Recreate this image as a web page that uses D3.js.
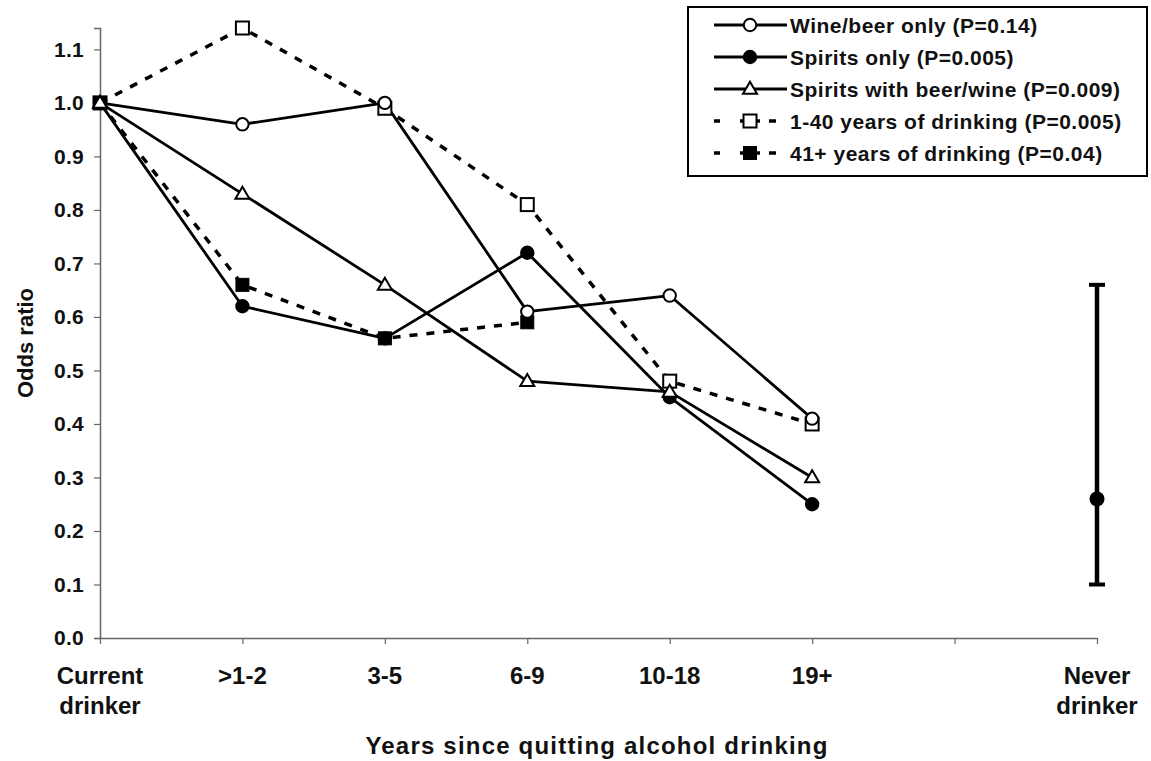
<!DOCTYPE html>
<html>
<head>
<meta charset="utf-8">
<script src="https://cdn.jsdelivr.net/npm/d3@7"></script>
<style>
  html, body { margin: 0; padding: 0; background: #fff; }
  svg { display: block; font-family: "Liberation Sans", Arial, sans-serif; font-weight: bold; }
</style>
</head>
<body>
<svg id="chart" width="1151" height="761"></svg>
<script>
// ---- data ----
const categories = ["Current\ndrinker", ">1-2", "3-5", "6-9", "10-18", "19+", "", "Never\ndrinker"];
const yTicks = [0, 0.1, 0.2, 0.3, 0.4, 0.5, 0.6, 0.7, 0.8, 0.9, 1.0, 1.1];

const wineBeer      = [1.00, 0.96, 1.00, 0.61, 0.64, 0.41];
const spiritsOnly   = [1.00, 0.62, 0.56, 0.72, 0.45, 0.25];
const spiritsWith   = [1.00, 0.83, 0.66, 0.48, 0.46, 0.30];
const years1to40    = [1.00, 1.14, 0.99, 0.81, 0.48, 0.40];
const years41plus   = [1.00, 0.66, 0.56, 0.59, null, null];

const neverDrinker = { category: "Never\ndrinker", or: 0.26, lo: 0.10, hi: 0.66 };

const seriesNames = [
  "Wine/beer only (P=0.14)",
  "Spirits only (P=0.005)",
  "Spirits with beer/wine (P=0.009)",
  "1-40 years of drinking (P=0.005)",
  "41+ years of drinking (P=0.04)"
];

const series = [
  { name: seriesNames[0], values: wineBeer,    marker: "circle",   fill: "#fff", dashed: false },
  { name: seriesNames[1], values: spiritsOnly, marker: "circle",   fill: "#000", dashed: false },
  { name: seriesNames[2], values: spiritsWith, marker: "triangle", fill: "#fff", dashed: false },
  { name: seriesNames[3], values: years1to40,  marker: "square",   fill: "#fff", dashed: true },
  { name: seriesNames[4], values: years41plus, marker: "square",   fill: "#000", dashed: true }
];

// ---- layout ----
const svg = d3.select("#chart");
const x = d3.scalePoint().domain(categories).range([100, 1097]);
const y = d3.scaleLinear().domain([0, 1.14]).range([638, 28]);

// axes
const yAxis = d3.axisLeft(y).tickValues(yTicks).tickFormat(d3.format(".1f")).tickSize(6).tickPadding(10);
const gy = svg.append("g").attr("transform", `translate(${x(categories[0])},0)`).call(yAxis);
gy.select(".domain").attr("stroke", "#666").attr("stroke-width", 1.5);
gy.selectAll(".tick line").attr("stroke", "#666").attr("stroke-width", 1.2);
gy.selectAll(".tick text").attr("font-size", 21).attr("font-weight", "bold").attr("fill", "#111")
  .attr("font-family", "Liberation Sans, Arial, sans-serif").attr("letter-spacing", 0.3);

const xAxis = d3.axisBottom(x).tickSize(6).tickSizeOuter(0).tickFormat("");
const gx = svg.append("g").attr("transform", `translate(0,${y(0)})`).call(xAxis);
gx.select(".domain").attr("stroke", "#666").attr("stroke-width", 1.5);
gx.selectAll(".tick line").attr("stroke", "#666").attr("stroke-width", 1.2);

// x tick labels (two lines)
const xl = svg.append("g").attr("font-size", 24).attr("fill", "#111").attr("text-anchor", "middle");
categories.forEach(c => {
  if (!c) return;
  const t = xl.append("text").attr("x", x(c)).attr("y", 684);
  c.split("\n").forEach((line, i) => {
    t.append("tspan").attr("x", x(c)).attr("dy", i === 0 ? 0 : 30).text(line);
  });
});

// axis titles
svg.append("text").attr("x", 597).attr("y", 754).attr("text-anchor", "middle")
  .attr("font-size", 24).attr("letter-spacing", 1.2).attr("fill", "#111")
  .text("Years since quitting alcohol drinking");
svg.append("text").attr("transform", "translate(33,343) rotate(-90)").attr("text-anchor", "middle")
  .attr("font-size", 22).attr("fill", "#111").text("Odds ratio");

// markers
function drawMarker(g, type, fill, cx, cy) {
  if (type === "circle") {
    g.append("circle").attr("cx", cx).attr("cy", cy).attr("r", 6.2)
      .attr("fill", fill).attr("stroke", "#000").attr("stroke-width", 2);
  } else if (type === "square") {
    const s = 13;
    g.append("rect").attr("x", cx - s / 2).attr("y", cy - s / 2).attr("width", s).attr("height", s)
      .attr("fill", fill).attr("stroke", "#000").attr("stroke-width", fill === "#000" ? 1 : 2);
  } else if (type === "triangle") {
    const h = 12, w = 14;
    g.append("path").attr("d", `M${cx},${cy - h * 0.6} L${cx + w / 2},${cy + h * 0.4} L${cx - w / 2},${cy + h * 0.4} Z`)
      .attr("fill", fill).attr("stroke", "#000").attr("stroke-width", 2).attr("stroke-linejoin", "miter");
  }
}

// lines
const line = d3.line()
  .defined(d => d.v != null)
  .x(d => x(d.c))
  .y(d => y(d.v));

const drawOrder = [3, 4, 0, 1, 2];
drawOrder.forEach(i => {
  const s = series[i];
  const pts = s.values.map((v, j) => ({ c: categories[j], v }));
  svg.append("path").datum(pts).attr("d", line).attr("fill", "none")
    .attr("stroke", "#000").attr("stroke-width", s.dashed ? 3.5 : 2.8)
    .attr("stroke-dasharray", s.dashed ? "8,9" : null)
    .attr("stroke-linejoin", "round");
});
drawOrder.forEach(i => {
  const s = series[i];
  const g = svg.append("g");
  s.values.forEach((v, j) => {
    if (v == null) return;
    drawMarker(g, s.marker, s.fill, x(categories[j]), y(v));
  });
});

// never drinker error bar
const nx = x(neverDrinker.category);
const eb = svg.append("g").attr("stroke", "#000").attr("stroke-width", 4.5);
eb.append("line").attr("x1", nx).attr("x2", nx).attr("y1", y(neverDrinker.lo)).attr("y2", y(neverDrinker.hi));
eb.append("line").attr("x1", nx - 8).attr("x2", nx + 8).attr("y1", y(neverDrinker.lo)).attr("y2", y(neverDrinker.lo)).attr("stroke-width", 4);
eb.append("line").attr("x1", nx - 8).attr("x2", nx + 8).attr("y1", y(neverDrinker.hi)).attr("y2", y(neverDrinker.hi)).attr("stroke-width", 4);
svg.append("circle").attr("cx", nx).attr("cy", y(neverDrinker.or)).attr("r", 7.5).attr("fill", "#000");

// legend
const lg = svg.append("g");
lg.append("rect").attr("x", 688).attr("y", 7).attr("width", 459).attr("height", 169)
  .attr("fill", "#fff").attr("stroke", "#000").attr("stroke-width", 2);
series.forEach((s, i) => {
  const cy = 25 + i * 32;
  if (s.dashed) {
    lg.append("line").attr("x1", 714).attr("x2", 720).attr("y1", cy).attr("y2", cy).attr("stroke", "#000").attr("stroke-width", 3.5);
    lg.append("line").attr("x1", 769).attr("x2", 776).attr("y1", cy).attr("y2", cy).attr("stroke", "#000").attr("stroke-width", 3.5);
    lg.append("line").attr("x1", 740).attr("x2", 760).attr("y1", cy).attr("y2", cy).attr("stroke", "#000").attr("stroke-width", 3.5);
  } else {
    lg.append("line").attr("x1", 714).attr("x2", 787).attr("y1", cy).attr("y2", cy).attr("stroke", "#000").attr("stroke-width", 2.8);
  }
  drawMarker(lg, s.marker, s.fill, 750, cy);
  lg.append("text").attr("x", 790).attr("y", cy + 7.5).attr("font-size", 21).attr("letter-spacing", 0.5)
    .attr("fill", "#111").text(s.name);
});
</script>
</body>
</html>
